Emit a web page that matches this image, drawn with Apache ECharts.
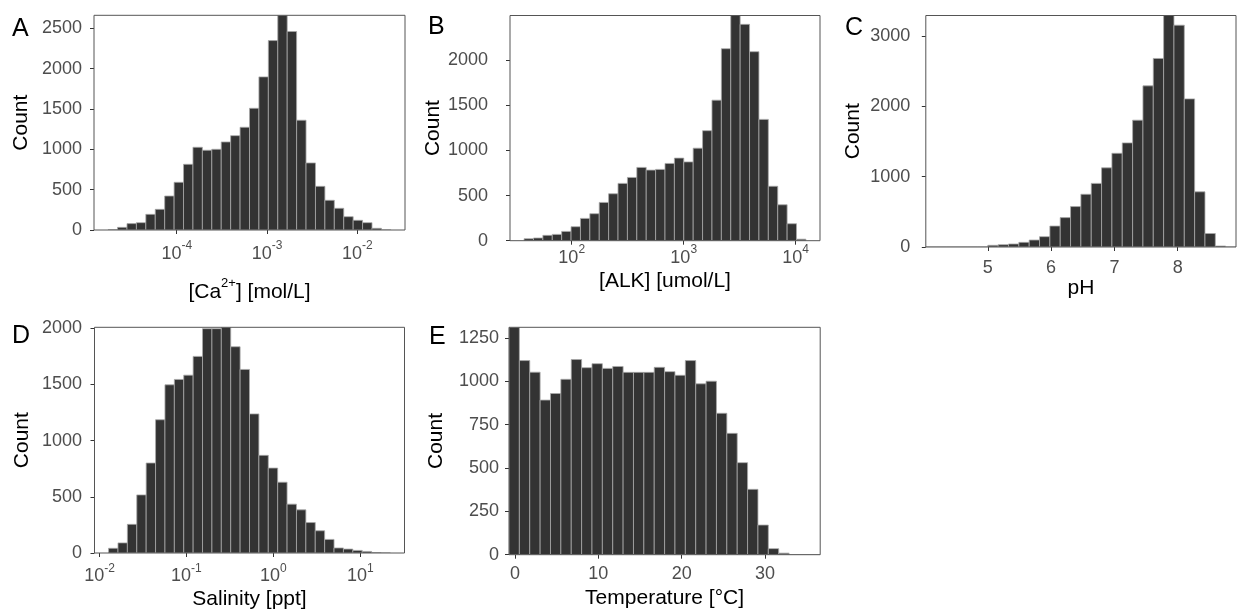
<!DOCTYPE html>
<html>
<head>
<meta charset="utf-8">
<script src="https://cdn.jsdelivr.net/npm/echarts@6/dist/echarts.min.js"></script>
<style>
html,body{margin:0;padding:0;background:#ffffff;}
#chart{width:1238px;height:615px;}
</style>
</head>
<body>
<div id="chart"></div>
<script>
// ---------------- DATA ----------------
// Panel A: [Ca2+] (bins in log10 mol/L)
const caBinStart = -4.7595;
const caBinWidth = 0.10433;
const caCounts = [2, 33, 79, 91, 194, 256, 421, 591, 814, 1025, 988, 1000, 1091, 1169, 1273,
                  1508, 1897, 2347, 2660, 2459, 1360, 831, 541, 368, 269, 165, 120, 91, 21, 1];
const caXTicks = [-4, -3, -2];
const caYTicks = [0, 500, 1000, 1500, 2000, 2500];

// Panel B: [ALK] (bins in log10 umol/L)
const alkBinStart = 1.5748;
const alkBinWidth = 0.08388;
const alkCounts = [22, 30, 59, 70, 103, 155, 247, 299, 424, 520, 635, 701, 812, 782, 790,
                   856, 915, 873, 1025, 1219, 1557, 2127, 2495, 2397, 2094, 1344, 603, 398, 188, 17];
const alkXTicks = [2, 3, 4];
const alkYTicks = [0, 500, 1000, 1500, 2000];

// Panel C: pH
const phBinStart = 4.021;
const phBinWidth = 0.16333;
const phCounts = [0, 0, 0, 0, 0, 0, 24, 33, 43, 66, 99, 147, 298, 418, 575,
                  750, 905, 1126, 1333, 1481, 1804, 2292, 2682, 3293, 3155, 2107, 785, 192, 14, 0];
const phXTicks = [5, 6, 7, 8];
const phYTicks = [0, 1000, 2000, 3000];

// Panel D: Salinity (bins in log10 ppt)
const salBinStart = -1.8954;
const salBinWidth = 0.10808;
const salCounts = [42, 90, 255, 517, 801, 1186, 1497, 1545, 1583, 1750, 1997, 1997, 2009, 1836, 1634,
                   1238, 869, 756, 630, 435, 384, 271, 198, 121, 45, 35, 23, 14, 4, 0];
const salXTicks = [-2, -1, 0, 1];
const salYTicks = [0, 500, 1000, 1500, 2000];

// Panel E: Temperature (°C)
const tempBinStart = -0.72;
const tempBinWidth = 1.245;
const tempCounts = [1312, 1120, 1053, 892, 930, 1012, 1126, 1079, 1102, 1075, 1086, 1052, 1052, 1052, 1081,
                    1056, 1035, 1120, 986, 1001, 816, 700, 531, 377, 171, 35, 9, 0, 0, 0];
const tempXTicks = [0, 10, 20, 30];
const tempYTicks = [0, 250, 500, 750, 1000, 1250];

// ---------------- CHART ----------------
const FONT = 'Liberation Sans, Arial, Helvetica, sans-serif';
const TICK_COLOR = '#4d4d4d';
const TICK_SIZE = 18;

function binsToData(start, width, counts) {
  return counts.map((c, k) => [start + k * width, start + (k + 1) * width, c]);
}

function renderBar(params, api) {
  const a = api.coord([api.value(0), 0]);
  const b = api.coord([api.value(1), api.value(2)]);
  return {
    type: 'rect',
    shape: { x: a[0], y: b[1], width: b[0] - a[0], height: a[1] - b[1] },
    style: { fill: '#333333', stroke: '#a8a8a8', lineWidth: 0.8 }
  };
}

const logFormatter = v => '{b|10}{s|' + v + '}';
const logRich = {
  b: { fontSize: TICK_SIZE, lineHeight: 23, verticalAlign: 'bottom', color: TICK_COLOR, fontFamily: FONT },
  s: { fontSize: 12, lineHeight: 11, verticalAlign: 'top', color: TICK_COLOR, fontFamily: FONT }
};

const panels = [
  { letter: 'A', grid: { left: 94, top: 15.3, width: 311, height: 214.7 },
    start: caBinStart, width: caBinWidth, counts: caCounts, pad: 1.5,
    xTicks: caXTicks, yTicks: caYTicks, log: true,
    xName: '{b|[Ca}{s|2+}{b|] [mol/L]}', xNameGap: 47, xLabelMargin: 10, yLabelMargin: 12,
    letterPos: [12, 26.7] },
  { letter: 'B', grid: { left: 510, top: 15.5, width: 310, height: 225.2 },
    start: alkBinStart, width: alkBinWidth, counts: alkCounts, pad: 1.5,
    xTicks: alkXTicks, yTicks: alkYTicks, log: true,
    xName: '[ALK] [umol/L]', xNameGap: 30, xLabelMargin: 3, yLabelMargin: 22,
    letterPos: [428, 25] },
  { letter: 'C', grid: { left: 925.8, top: 15.5, width: 310.2, height: 231.5 },
    start: phBinStart, width: phBinWidth, counts: phCounts, pad: 0,
    xTicks: phXTicks, yTicks: phYTicks, log: false,
    xName: 'pH', xNameGap: 31, xLabelMargin: 12, yLabelMargin: 15.5,
    letterPos: [845, 25.8] },
  { letter: 'D', grid: { left: 94.5, top: 327.3, width: 310, height: 225.7 },
    start: salBinStart, width: salBinWidth, counts: salCounts, pad: 1.5,
    xTicks: salXTicks, yTicks: salYTicks, log: true,
    xName: 'Salinity [ppt]', xNameGap: 35.5, xLabelMargin: 9.5, yLabelMargin: 12.5,
    letterPos: [12, 334] },
  { letter: 'E', grid: { left: 509, top: 327.3, width: 311.2, height: 227.4 },
    start: tempBinStart, width: tempBinWidth, counts: tempCounts, pad: 0,
    xTicks: tempXTicks, yTicks: tempYTicks, log: false,
    xName: 'Temperature [°C]', xNameGap: 33, xLabelMargin: 10.5, yLabelMargin: 10,
    letterPos: [429, 335] }
];

const option = {
  animation: false,
  backgroundColor: '#ffffff',
  textStyle: { fontFamily: FONT },
  grid: [], xAxis: [], yAxis: [], series: [], graphic: []
};

panels.forEach((p, i) => {
  const n = p.counts.length;
  const xmin = p.start - p.pad * p.width;
  const xmax = p.start + (n + p.pad) * p.width;
  option.grid.push(Object.assign({
    show: true, z: 10, borderColor: '#555555', borderWidth: 1, backgroundColor: 'transparent'
  }, p.grid));
  option.xAxis.push({
    gridIndex: i, type: 'value', min: xmin, max: xmax, position: 'bottom',
    axisLine: { show: false, onZero: false }, splitLine: { show: false },
    axisTick: { show: true, length: 4, lineStyle: { color: '#333333' }, customValues: p.xTicks },
    axisLabel: {
      customValues: p.xTicks, margin: p.xLabelMargin, color: TICK_COLOR, fontSize: TICK_SIZE, fontFamily: FONT,
      formatter: p.log ? logFormatter : (v => String(v)), rich: p.log ? logRich : undefined
    },
    name: p.xName, nameLocation: 'middle', nameGap: p.xNameGap,
    nameTextStyle: {
      color: '#000000', fontSize: 21, fontFamily: FONT,
      rich: {
        b: { fontSize: 21, lineHeight: 26, verticalAlign: 'bottom', color: '#000000', fontFamily: FONT },
        s: { fontSize: 13, lineHeight: 12, verticalAlign: 'top', color: '#000000', fontFamily: FONT }
      }
    }
  });
  option.yAxis.push({
    gridIndex: i, type: 'value', min: 0, max: Math.max(...p.counts), position: 'left',
    axisLine: { show: false, onZero: false }, splitLine: { show: false },
    axisTick: { show: true, length: 4, lineStyle: { color: '#333333' }, customValues: p.yTicks },
    axisLabel: {
      customValues: p.yTicks, margin: p.yLabelMargin, color: TICK_COLOR, fontSize: TICK_SIZE, fontFamily: FONT,
      formatter: v => String(v)
    },
    name: 'Count', nameLocation: 'middle', nameGap: 62, nameRotate: 90,
    nameTextStyle: { color: '#000000', fontSize: 21, fontFamily: FONT }
  });
  option.series.push({
    type: 'custom', xAxisIndex: i, yAxisIndex: i, clip: true,
    renderItem: renderBar, encode: { x: [0, 1], y: 2 },
    data: binsToData(p.start, p.width, p.counts)
  });
  option.graphic.push({
    type: 'text', left: p.letterPos[0], top: p.letterPos[1] - 10,
    style: { text: p.letter, font: '25px ' + FONT, fill: '#000000' }
  });
});

const chart = echarts.init(document.getElementById('chart'), null, { renderer: 'canvas' });
chart.setOption(option);
</script>
</body>
</html>
